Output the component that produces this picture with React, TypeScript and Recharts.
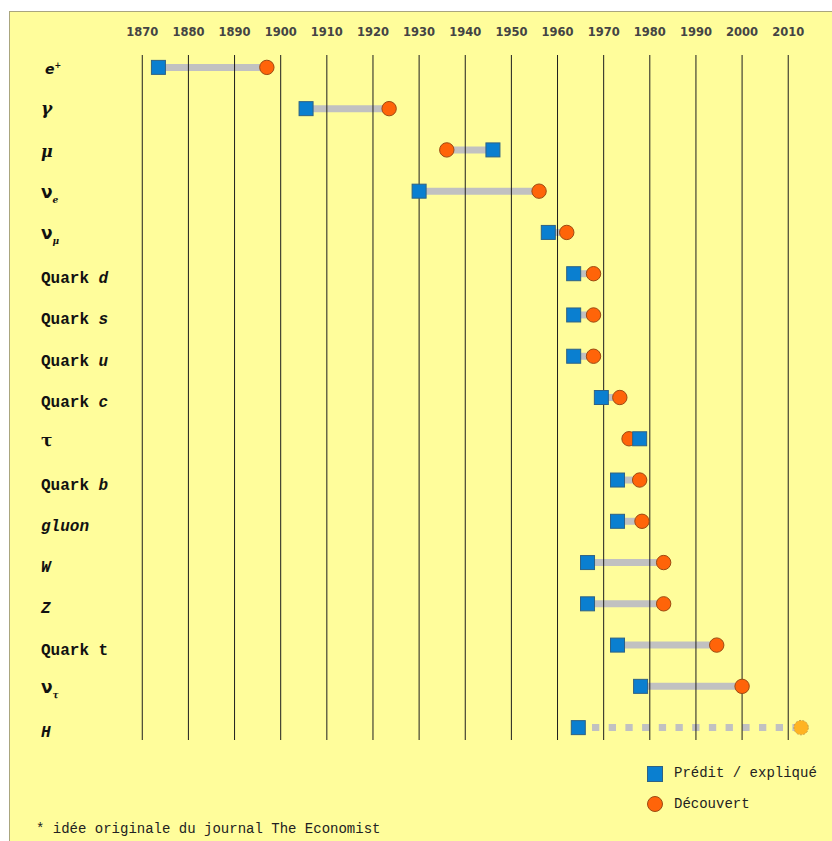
import React from "react";
import { ScatterChart, Scatter, XAxis, YAxis, CartesianGrid, Legend } from "recharts";

// ---- data ----
const particles = [
  "e+", "γ", "μ", "νe", "νμ", "Quark d", "Quark s", "Quark u", "Quark c",
  "τ", "Quark b", "gluon", "W", "Z", "Quark t", "ντ", "H",
];
const predicted = [
  1873.5, 1905.5, 1946, 1930, 1958, 1963.5, 1963.5, 1963.5, 1969.5,
  1977.8, 1973, 1973, 1966.5, 1966.5, 1973, 1978, 1964.5,
];
const discovered = [
  1897, 1923.5, 1936, 1956, 1962, 1967.8, 1967.8, 1967.8, 1973.5,
  1975.5, 1977.8, 1978.3, 1983, 1983, 1994.5, 2000, 2012.8,
];
const yearTicks = [1870, 1880, 1890, 1900, 1910, 1920, 1930, 1940, 1950, 1960, 1970, 1980, 1990, 2000, 2010];
const legendLabels = ["Prédit / expliqué", "Découvert"];
const footnote = "* idée originale du journal The Economist";
const recentParticle = "H";

const predPoints = predicted.map((year, row) => ({ year, row }));
const discPoints = discovered.map((year, row) => ({ year, row }));
const links = particles.map((name, row) => ({
  name,
  points: [
    { year: predicted[row], row },
    { year: discovered[row], row },
  ],
}));

// ---- style ----
const BLUE = "#0a7fd0";
const BLUE_STROKE = "#2f6283";
const ORANGE = "#ff6409";
const ORANGE_STROKE = "#9c4a12";
const AMBER = "#ffb322";
const AMBER_STROKE = "#c49b45";
const LINK = "#c1c1c1";
const MONO = "'Liberation Mono', 'DejaVu Sans Mono', monospace";
const SANS = "'DejaVu Sans', Verdana, sans-serif";
const SERIF = "'DejaVu Serif', serif";

function ParticleLabel({ name, y }: { name: string; y: number }) {
  const x = 41;
  const base = y + 8.5;
  if (name === "e+") {
    return (
      <text x={45} y={base - 2} fill="#111" fontFamily={SANS} fontSize={14} fontWeight={700} fontStyle="italic">
        e<tspan dy={-6} fontSize={8}>+</tspan>
      </text>
    );
  }
  if (name.startsWith("ν")) {
    return (
      <text x={x} y={base - 2} fill="#111" fontFamily={SANS} fontSize={17} fontWeight={700}>
        ν<tspan dy={5} fontSize={9} fontStyle="italic" fontFamily={SERIF}>{name.slice(1)}</tspan>
      </text>
    );
  }
  if (name === "γ") {
    return (
      <text x={x} y={base - 3} fill="#111" fontFamily={SERIF} fontSize={17} fontWeight={700} fontStyle="italic">
        γ
      </text>
    );
  }
  if (name === "μ") {
    return (
      <text x={x} y={base - 1} fill="#111" fontFamily={SERIF} fontSize={16} fontWeight={700} fontStyle="italic">
        μ
      </text>
    );
  }
  if (name === "τ") {
    return (
      <text x={x} y={base - 1} fill="#111" fontFamily={SERIF} fontSize={17} fontWeight={700}>
        τ
      </text>
    );
  }
  if (name.startsWith("Quark ")) {
    const letter = name.slice(6);
    return (
      <text x={x} y={base + 1} fill="#111" fontFamily={MONO} fontSize={16} fontWeight={700} xmlSpace="preserve">
        {"Quark "}
        <tspan fontStyle={letter === "t" ? "normal" : "italic"}>{letter}</tspan>
      </text>
    );
  }
  return (
    <text x={x} y={base + 1} fill="#111" fontFamily={MONO} fontSize={16} fontWeight={700} fontStyle="italic">
      {name}
    </text>
  );
}

const SquareShape = (p: any) => (
  <rect x={p.cx - 7} y={p.cy - 7} width={14} height={14} fill={BLUE} stroke={BLUE_STROKE} strokeWidth={1} />
);

const CircleShape = (p: any) => {
  const recent = particles[p.payload?.row] === recentParticle;
  return (
    <circle
      cx={p.cx}
      cy={p.cy}
      r={7.2}
      fill={recent ? AMBER : ORANGE}
      stroke={recent ? AMBER_STROKE : ORANGE_STROKE}
      strokeWidth={1}
      strokeDasharray={recent ? "2 1.5" : undefined}
    />
  );
};

const NoShape = () => <g />;

const YearTick = (p: any) => (
  <text x={p.x} y={36} textAnchor="middle" fill="#444" fontFamily={SANS} fontSize={11.5} fontWeight={700}>
    {p.payload.value}
  </text>
);

const RowTick = (p: any) => <ParticleLabel name={particles[p.payload.value]} y={p.y} />;

const LegendContent = () => (
  <svg width={180} height={52} style={{ display: "block" }}>
    <rect x={1.5} y={3.5} width={15} height={15} fill={BLUE} stroke={BLUE_STROKE} strokeWidth={1} />
    <text x={28} y={13.5} fill="#222" fontFamily={MONO} fontSize={14}>
      {legendLabels[0]}
    </text>
    <circle cx={9} cy={41} r={7.5} fill={ORANGE} stroke={ORANGE_STROKE} strokeWidth={1} />
    <text x={28} y={44.5} fill="#222" fontFamily={MONO} fontSize={14}>
      {legendLabels[1]}
    </text>
  </svg>
);

export default function App() {
  return (
    <div style={{ position: "absolute", left: 0, top: 0, width: 832, height: 841, overflow: "hidden" }}>
      <div
        style={{
          position: "absolute",
          left: 9,
          top: 11,
          width: 822,
          height: 829,
          background: "#fffd9b",
          borderLeft: "1px solid #aaa67e",
          borderTop: "1px solid #aaa67e",
        }}
      />
      <div style={{ position: "absolute", left: 0, top: 0 }}>
        <ScatterChart width={832} height={841} margin={{ top: 25, right: 20.7, bottom: 101, left: 9.2 }}>
          {links.map((l) => (
            <Scatter
              key={l.name}
              data={l.points}
              shape={NoShape}
              legendType="none"
              isAnimationActive={false}
              zIndex={-200}
              line={
                l.name === recentParticle
                  ? { stroke: LINK, strokeWidth: 7, strokeDasharray: "7.3 9.4", strokeDashoffset: 3 }
                  : { stroke: LINK, strokeWidth: 7 }
              }
            />
          ))}
          <CartesianGrid horizontal={false} stroke="#1e1e1e" strokeWidth={1} syncWithTicks verticalValues={yearTicks} />
          <XAxis
            type="number"
            dataKey="year"
            orientation="top"
            height={30}
            domain={[1865, 2015]}
            ticks={yearTicks}
            interval={0}
            axisLine={false}
            tickLine={false}
            tick={YearTick}
          />
          <YAxis
            type="number"
            dataKey="row"
            width={110}
            domain={[-0.3, 16.3]}
            reversed
            ticks={particles.map((_, i) => i)}
            interval={0}
            axisLine={false}
            tickLine={false}
            tick={RowTick}
          />
          <Scatter name={legendLabels[1]} data={discPoints} shape={CircleShape} isAnimationActive={false} />
          <Scatter name={legendLabels[0]} data={predPoints} shape={SquareShape} isAnimationActive={false} />
          <Legend
            layout="horizontal"
            verticalAlign="middle"
            align="center"
            wrapperStyle={{ left: 646, top: 763, width: 180, height: 52 }}
            content={LegendContent}
          />
        </ScatterChart>
      </div>
      <div
        style={{
          position: "absolute",
          left: 36,
          top: 821,
          fontFamily: MONO,
          fontSize: 14,
          lineHeight: "16px",
          color: "#222",
          whiteSpace: "pre",
        }}
      >
        {footnote}
      </div>
    </div>
  );
}
